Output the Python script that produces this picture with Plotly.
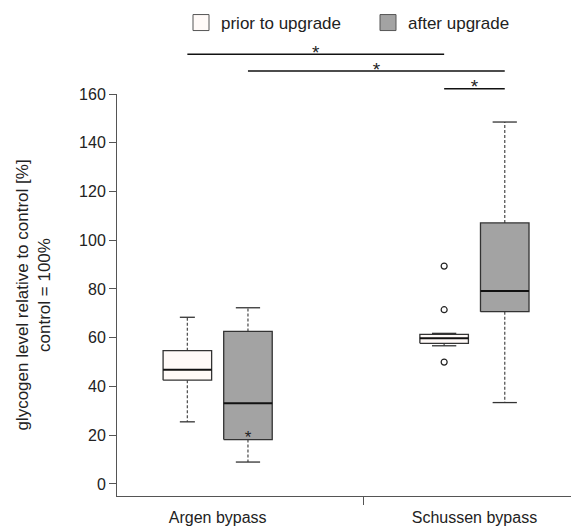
import plotly.graph_objects as go

# ---------------- data ----------------
categories = ["Argen bypass", "Schussen bypass"]
series_names = ["prior to upgrade", "after upgrade"]

prior_lower = [25.5, 56.7]
prior_q1 = [42.6, 57.7]
prior_median = [46.9, 59.8]
prior_q3 = [54.7, 61.4]
prior_upper = [68.4, 61.8]

after_lower = [9.0, 33.4]
after_q1 = [18.2, 70.7]
after_median = [33.1, 79.2]
after_q3 = [62.6, 107.1]
after_upper = [72.3, 148.5]

outlier_series = ["prior to upgrade", "prior to upgrade", "prior to upgrade"]
outlier_category = ["Schussen bypass", "Schussen bypass", "Schussen bypass"]
outlier_values = [89.4, 71.5, 50.0]

star_series = ["after upgrade"]
star_category = ["Argen bypass"]
star_values = [18.6]

# significance brackets: (category, series) -> (category, series)
sig_from = [("Argen bypass", "prior to upgrade"), ("Argen bypass", "after upgrade"), ("Schussen bypass", "prior to upgrade")]
sig_to = [("Schussen bypass", "prior to upgrade"), ("Schussen bypass", "after upgrade"), ("Schussen bypass", "after upgrade")]
sig_heights = [176.3, 169.4, 162.2]
sig_labels = ["*", "*", "*"]

y_ticks = [0, 20, 40, 60, 80, 100, 120, 140, 160]
divider_tick = [0.566]

# ---------------- styling ----------------
FONT = "Liberation Sans, Arial, sans-serif"
W, H = 571, 528
M_L, M_R, M_T, M_B = 117, 0, 0, 32
PLOT_H = H - M_T - M_B
MAIN_TOP_PX = 94
Y_RANGE = [-4.93, 160]
main_dom_top = (H - M_B - MAIN_TOP_PX) / PLOT_H
y2_top = Y_RANGE[0] + (Y_RANGE[1] - Y_RANGE[0]) / main_dom_top
X_RANGE = [-0.392, 1.376]

series_offset = {"prior to upgrade": -0.118, "after upgrade": 0.118}
half_width = 0.0945
cap_frac = {("Argen bypass", "prior to upgrade"): 0.31}
fills = {"prior to upgrade": "#FFFAF8", "after upgrade": "#A3A3A3"}
edge = "#333333"
whisker_col = "#555555"

stats = {
    "prior to upgrade": (prior_lower, prior_q1, prior_median, prior_q3, prior_upper),
    "after upgrade": (after_lower, after_q1, after_median, after_q3, after_upper),
}


def xpos(cat, ser):
    return categories.index(cat) + series_offset[ser]


fig = go.Figure()

for ser in series_names:
    lo, q1, med, q3, up = stats[ser]
    for i, cat in enumerate(categories):
        c = xpos(cat, ser)
        cw = half_width * cap_frac.get((cat, ser), 0.5)
        # whiskers (dashed)
        fig.add_trace(go.Scatter(
            x=[c, c, None, c, c], y=[q3[i], up[i], None, q1[i], lo[i]],
            mode="lines", line=dict(color=whisker_col, width=1.3, dash="3px,2px"),
            showlegend=False, hoverinfo="skip"))
        # caps
        fig.add_trace(go.Scatter(
            x=[c - cw, c + cw, None, c - cw, c + cw], y=[up[i], up[i], None, lo[i], lo[i]],
            mode="lines", line=dict(color=edge, width=1.3),
            showlegend=False, hoverinfo="skip"))
        # box
        fig.add_trace(go.Scatter(
            x=[c - half_width, c + half_width, c + half_width, c - half_width, c - half_width],
            y=[q1[i], q1[i], q3[i], q3[i], q1[i]],
            mode="lines", fill="toself", fillcolor=fills[ser],
            line=dict(color=edge, width=1.3),
            showlegend=False, hoverinfo="skip"))
        # median
        fig.add_trace(go.Scatter(
            x=[c - half_width, c + half_width], y=[med[i], med[i]],
            mode="lines", line=dict(color="#111111", width=2),
            showlegend=False, hoverinfo="skip"))

# outliers
fig.add_trace(go.Scatter(
    x=[xpos(c, s) for c, s in zip(outlier_category, outlier_series)], y=outlier_values,
    mode="markers", marker=dict(symbol="circle-open", size=6, color="#222222", line=dict(width=1.2)),
    showlegend=False, hoverinfo="skip"))

# asterisk inside box
fig.add_trace(go.Scatter(
    x=[xpos(c, s) for c, s in zip(star_category, star_series)], y=star_values,
    mode="text", text=["*"] * len(star_values), textposition="middle center",
    textfont=dict(family=FONT, size=17, color="#222222"),
    showlegend=False, hoverinfo="skip"))

# significance brackets (on an extended y-axis above the plot)
for (fc, fs), (tc, ts), h, lab in zip(sig_from, sig_to, sig_heights, sig_labels):
    x0, x1 = xpos(fc, fs), xpos(tc, ts)
    fig.add_trace(go.Scatter(
        x=[x0, x1], y=[h, h], yaxis="y2", mode="lines",
        line=dict(color="#111111", width=1.5), showlegend=False, hoverinfo="skip"))
    fig.add_trace(go.Scatter(
        x=[(x0 + x1) / 2], y=[h], yaxis="y2", mode="text", text=[lab],
        textposition="middle center", textfont=dict(family=FONT, size=19, color="#222222"),
        showlegend=False, hoverinfo="skip", cliponaxis=False))

# legend entries
for ser in series_names:
    fig.add_trace(go.Scatter(
        x=[None], y=[None], mode="markers", name=ser,
        marker=dict(symbol="square", size=16, color=fills[ser], line=dict(color="#555555", width=1))))

# dummy trace to activate the divider-tick axis
fig.add_trace(go.Scatter(x=[None], y=[None], xaxis="x2", showlegend=False, hoverinfo="skip"))

fig.update_layout(
    width=W, height=H,
    margin=dict(l=M_L, r=M_R, t=M_T, b=M_B, autoexpand=False),
    paper_bgcolor="white", plot_bgcolor="rgba(0,0,0,0)",
    font=dict(family=FONT, size=16, color="#222222"),
    showlegend=True,
    legend=dict(orientation="h", x=(181 - M_L) / (W - M_L - M_R), xanchor="left",
                y=1 - 23 / PLOT_H, yanchor="middle",
                entrywidth=142, entrywidthmode="pixels",
                font=dict(family=FONT, size=17, color="#222222"),
                bgcolor="rgba(0,0,0,0)"),
    xaxis=dict(range=X_RANGE, domain=[0, 1], tickvals=[0, 1], ticktext=categories,
               ticks="", showline=True, linecolor="#555555", linewidth=1,
               showgrid=False, zeroline=False, ticklabelstandoff=7, automargin=False,
               tickfont=dict(family=FONT, size=16, color="#222222"), anchor="y"),
    xaxis2=dict(range=X_RANGE, overlaying="x", anchor="y", side="bottom",
                tickvals=divider_tick, ticktext=[""], ticks="outside", ticklen=8,
                tickcolor="#555555", showline=False, showgrid=False, zeroline=False,
                showticklabels=False, automargin=False),
    yaxis=dict(range=Y_RANGE, domain=[0, main_dom_top], tickvals=y_ticks,
               ticks="outside", ticklen=7, tickcolor="#555555",
               showline=True, linecolor="#555555", linewidth=1,
               showgrid=False, zeroline=False, automargin=False,
               tickfont=dict(family=FONT, size=16, color="#222222"),
               title=dict(text="glycogen level relative to control [%]<br>control = 100%",
                          font=dict(family=FONT, size=17, color="#222222"), standoff=24),
               anchor="x"),
    yaxis2=dict(range=[Y_RANGE[0], y2_top], domain=[0, 1], anchor="x", visible=False,
                showgrid=False, zeroline=False, automargin=False),
)

fig.write_html("out.html")
